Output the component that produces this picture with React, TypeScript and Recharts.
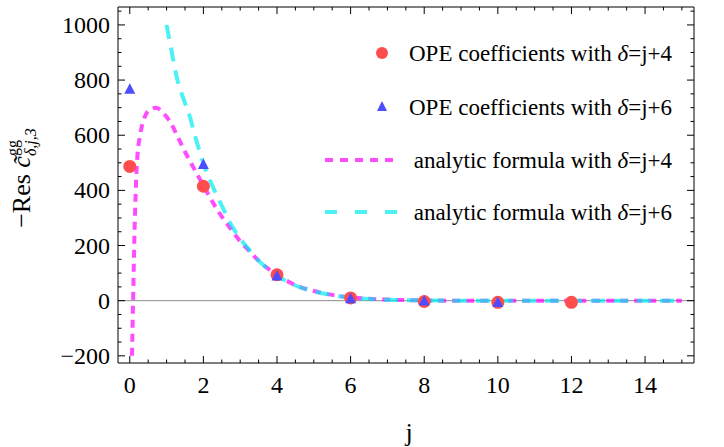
import React from 'react';
import { ComposedChart, Line, Scatter, XAxis, YAxis, ReferenceLine, Legend } from 'recharts';

const FONT = '"Liberation Serif", "Times New Roman", serif';

// OPE coefficient points
const opeJ4 = [0, 2, 4, 6, 8, 10, 12];
const opeVal4 = [487, 415, 94, 10, -3, -6, -6];
const opeJ6 = [0, 2, 4, 6, 8, 10];
const opeVal6 = [765, 492, 88, 5, -3, -8];

// analytic formula
const curveJ4 = [0.06, 0.09, 0.12, 0.16, 0.2, 0.29, 0.41, 0.55, 0.72, 0.9, 1.1, 1.3, 1.5, 1.75, 2.0, 2.25, 2.5, 2.75, 3.0, 3.25, 3.5, 3.75, 4.0, 4.5, 5.0, 5.5, 6.0, 6.5, 7.0, 7.5, 8, 9, 10, 11, 12, 13, 14, 15];
const curveVal4 = [-200, 0, 196, 390, 510, 607, 668, 692, 700, 682, 648, 595, 540, 478, 418, 358, 305, 260, 215, 180, 145, 117, 94, 56, 35, 21, 12, 7, 4, 2, 1, 0, 0, 0, 0, 0, 0, 0];
const curveJ6 = [1.0, 1.15, 1.27, 1.45, 1.63, 1.8, 1.9, 2.0, 2.26, 2.5, 2.72, 3.0, 3.2, 3.5, 3.75, 4.0, 4.5, 5, 5.5, 6, 6.5, 7, 8, 9, 10, 11, 12, 13, 14, 15];
const curveVal6 = [1000, 895, 814, 735, 668, 585, 540, 497, 412, 345, 284, 225, 192, 145, 115, 91, 55, 34, 20, 11, 6, 3, 1, 0, 0, 0, 0, 0, 0, 0];

const xTicks = [0, 0.5, 1, 1.5, 2, 2.5, 3, 3.5, 4, 4.5, 5, 5.5, 6, 6.5, 7, 7.5, 8, 8.5, 9, 9.5, 10, 10.5, 11, 11.5, 12, 12.5, 13, 13.5, 14, 14.5, 15];
const xLabels = [0, 2, 4, 6, 8, 10, 12, 14];
const yTicks = [-200, -150, -100, -50, 0, 50, 100, 150, 200, 250, 300, 350, 400, 450, 500, 550, 600, 650, 700, 750, 800, 850, 900, 950, 1000, 1050];
const yLabels = [-200, 0, 200, 400, 600, 800, 1000];

const legendNames = ['OPE coefficients with ', 'OPE coefficients with ', 'analytic formula with ', 'analytic formula with '];
const legendDelta = ['j+4', 'j+6', 'j+4', 'j+6'];

const pts4 = opeJ4.map((j, i) => ({ j, v: opeVal4[i] }));
const pts6 = opeJ6.map((j, i) => ({ j, v: opeVal6[i] }));
const line4 = curveJ4.map((j, i) => ({ j, v: curveVal4[i] }));
const line6 = curveJ6.map((j, i) => ({ j, v: curveVal6[i] }));

const RED = 'rgb(255,77,77)';
const BLUE = 'rgb(77,77,255)';
const MAGENTA = 'rgba(255,0,255,0.7)';
const CYAN = 'rgba(0,235,240,0.7)';

const fmt = (v: number) => (v < 0 ? '\u2212' + Math.abs(v) : String(v));

const BottomTick = (props: any) => {
  const { x, y, payload } = props;
  const major = xLabels.includes(payload.value);
  return (
    <g>
      <line x1={x} y1={y} x2={x} y2={y - (major ? 7 : 3.5)} stroke="#000" strokeWidth={1} />
      {major && (
        <text x={x} y={y + 30} textAnchor="middle" fontFamily={FONT} fontSize={24} fill="#000">
          {fmt(payload.value)}
        </text>
      )}
    </g>
  );
};

const TopTick = (props: any) => {
  const { x, y, payload } = props;
  const major = xLabels.includes(payload.value);
  return <line x1={x} y1={y} x2={x} y2={y + (major ? 7 : 3.5)} stroke="#000" strokeWidth={1} />;
};

const LeftTick = (props: any) => {
  const { x, y, payload } = props;
  const major = yLabels.includes(payload.value);
  return (
    <g>
      <line x1={x} y1={y} x2={x + (major ? 7 : 3.5)} y2={y} stroke="#000" strokeWidth={1} />
      {major && (
        <text x={x - 8} y={y + 8} textAnchor="end" fontFamily={FONT} fontSize={24} fill="#000">
          {fmt(payload.value)}
        </text>
      )}
    </g>
  );
};

const RightTick = (props: any) => {
  const { x, y, payload } = props;
  const major = yLabels.includes(payload.value);
  return <line x1={x} y1={y} x2={x - (major ? 7 : 3.5)} y2={y} stroke="#000" strokeWidth={1} />;
};

const Dot = (props: any) => <circle cx={props.cx} cy={props.cy} r={6.5} fill={RED} />;
const Tri = (props: any) => {
  const { cx, cy } = props;
  return <polygon points={`${cx},${cy - 6.5} ${cx - 5.5},${cy + 4} ${cx + 5.5},${cy + 4}`} fill={BLUE} />;
};

const YLabel = () => (
  <text transform="rotate(-90, 30, 178)" x={30} y={178} textAnchor="middle" fontFamily={FONT} fontSize={26} fill="#000">
    <tspan>{'\u2212Res '}</tspan>
    <tspan fontStyle="italic">{'c\u0303'}</tspan>
    <tspan fontSize={16} dy={-12}>gg</tspan>
    <tspan fontSize={16} fontStyle="italic" dx={-16} dy={18}>{'\u03b4,j,3'}</tspan>
  </text>
);

const XLabel = () => (
  <text x={409} y={441} textAnchor="middle" fontFamily={FONT} fontSize={26} fill="#000">j</text>
);

const rowY = [53, 107, 160, 212];

const LegendBox = () => (
  <svg width={724} height={447} style={{ position: 'absolute', left: 0, top: 0 }}>
    <circle cx={382} cy={rowY[0]} r={6} fill={RED} />
    <polygon points={`382,${rowY[1] - 6} 377,${rowY[1] + 4} 387,${rowY[1] + 4}`} fill={BLUE} />
    <line x1={325} y1={rowY[2]} x2={397} y2={rowY[2]} stroke={MAGENTA} strokeWidth={4} strokeDasharray="8 7" />
    <line x1={325} y1={rowY[3]} x2={397} y2={rowY[3]} stroke={CYAN} strokeWidth={4} strokeDasharray="12 18" />
    {legendNames.map((name, i) => (
      <text key={i} x={672} y={rowY[i] + 8} textAnchor="end" fontFamily={FONT} fontSize={23} fill="#000">
        {name}
        <tspan fontStyle="italic">{'\u03b4'}</tspan>
        {'=' + legendDelta[i]}
      </text>
    ))}
  </svg>
);

export default function App() {
  return (
    <div style={{ position: 'absolute', left: 0, top: 0, width: 724, height: 447, background: '#fff' }}>
      <ComposedChart width={724} height={447} margin={{ top: 6, right: 29, bottom: 24, left: 8 }}>
        <XAxis
          dataKey="j"
          type="number"
          domain={[-0.32, 15.33]}
          ticks={xTicks}
          interval={0}
          allowDataOverflow
          height={60}
          tickSize={0}
          tickMargin={0}
          tickLine={false}
          tick={<BottomTick />}
          axisLine={{ stroke: '#000' }}
          label={<XLabel />}
        />
        <XAxis
          xAxisId="top"
          orientation="top"
          dataKey="j"
          type="number"
          domain={[-0.32, 15.33]}
          ticks={xTicks}
          interval={0}
          allowDataOverflow
          height={1}
          tickSize={0}
          tickMargin={0}
          tickLine={false}
          tick={<TopTick />}
          axisLine={{ stroke: '#000' }}
        />
        <YAxis
          dataKey="v"
          type="number"
          domain={[-226, 1065]}
          ticks={yTicks}
          interval={0}
          allowDataOverflow
          width={110}
          tickSize={0}
          tickMargin={0}
          tickLine={false}
          tick={<LeftTick />}
          axisLine={{ stroke: '#000' }}
          label={<YLabel />}
        />
        <YAxis
          yAxisId="right"
          orientation="right"
          type="number"
          domain={[-226, 1065]}
          ticks={yTicks}
          interval={0}
          allowDataOverflow
          width={1}
          tickSize={0}
          tickMargin={0}
          tickLine={false}
          tick={<RightTick />}
          axisLine={{ stroke: '#000' }}
        />
        <ReferenceLine y={0} stroke="#8c8c8c" strokeWidth={1} />
        <Line data={line4} dataKey="v" type="monotone" stroke={MAGENTA} strokeWidth={4} strokeDasharray="8 6" dot={false} activeDot={false} isAnimationActive={false} />
        <Line data={line6} dataKey="v" type="monotone" stroke={CYAN} strokeWidth={4} strokeDasharray="14 9" dot={false} activeDot={false} isAnimationActive={false} />
        <Scatter data={pts4} dataKey="v" shape={<Dot />} isAnimationActive={false} />
        <Scatter data={pts6} dataKey="v" shape={<Tri />} isAnimationActive={false} />
        <Legend layout="horizontal" verticalAlign="middle" align="center" content={<LegendBox />} wrapperStyle={{ position: 'absolute', left: 0, top: 0, width: 724, height: 447 }} />
      </ComposedChart>
    </div>
  );
}
